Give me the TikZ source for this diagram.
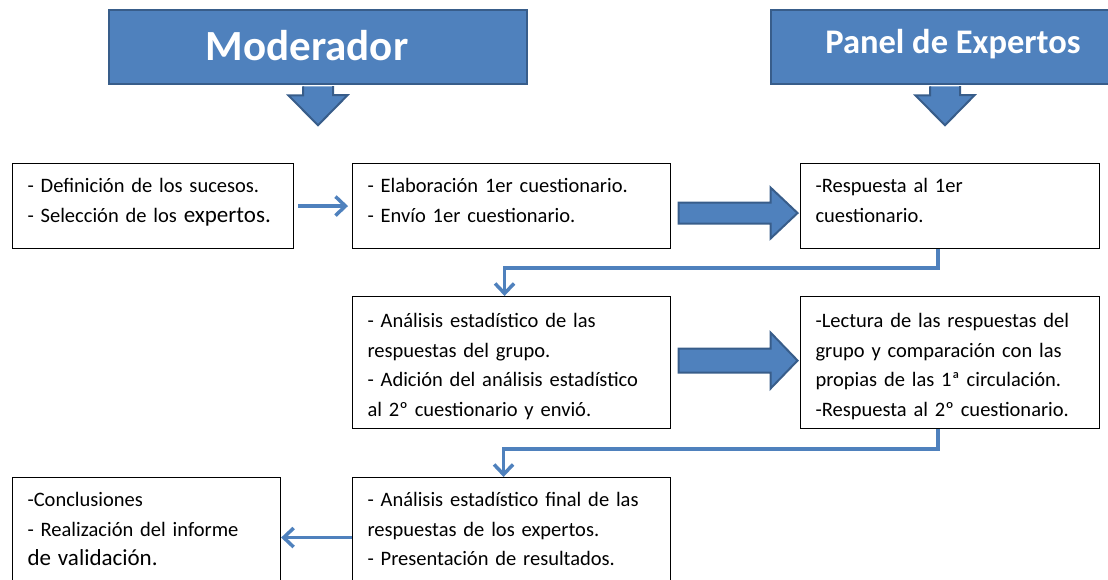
\documentclass[tikz,border=0pt]{standalone}
\usepackage{fontspec}
\setmainfont{Carlito}
\usetikzlibrary{calc, arrows.meta}
\definecolor{azul}{HTML}{4F81BD}
\definecolor{bordeazul}{HTML}{385D8A}
\newcommand{\grande}{\fontsize{23}{29.5}\selectfont}

\begin{document}
\begin{tikzpicture}[x=1pt, y=-1pt,
    bandera/.style={draw=bordeazul, line width=2.5pt, fill=azul, text=white, inner sep=0pt, minimum height=74pt},
    caja/.style={draw, line width=1.1pt, anchor=north west, align=left, inner xsep=15pt, inner ysep=0pt, text height=29pt, font=\fontsize{20.5}{29.5}\selectfont},
    conector/.style={draw=azul, line width=3.5pt, -{Straight Barb[length=10pt, width=19pt]}},
    bloque/.style={draw=bordeazul, line width=2pt, fill=azul}]
    \useasboundingbox (0,0) rectangle (1108,580);
    \clip (0,0) rectangle (1108,580);
    % titulos con flecha hacia abajo
    \node[bandera, minimum width=418pt, text depth=4pt, font=\bfseries\fontsize{43}{43}\selectfont] (mod) at (318,47) {Moderador\hspace*{22pt}};
    \filldraw[bloque] ($(mod.south)+(-15,1.2)$) -- ++(0,9) -- ++(-14.5,0) -- ($(mod.south)+(0,40)$) -- ($(mod.south)+(29.5,10)$) -- ++(-14.5,0) -- ++(0,-9);
    \node[bandera, minimum width=364pt, text depth=12pt, font=\bfseries\fontsize{34.5}{34.5}\selectfont] (pan) at (953,47) {Panel de Expertos};
    \filldraw[bloque] ($(pan.south)+(-23,1.2)$) -- ++(0,9) -- ++(-14.5,0) -- ($(pan.south)+(-8,40)$) -- ($(pan.south)+(21.5,10)$) -- ++(-14.5,0) -- ++(0,-9);
    % primera fila
    \node[caja, text width=251pt, text depth=56pt] (b1) at (12,163) {- Definición de los sucesos.\\- Selección de los {\grande expertos.}};
    \node[caja, text width=288pt, text depth=56pt] (b2) at (352,163) {- Elaboración 1er cuestionario.\\- Envío 1er cuestionario.};
    \node[caja, text width=269pt, text depth=56pt] (b3) at (800,163) {-Respuesta al 1er\\cuestionario.};
    % segunda fila
    \node[caja, text width=288pt, text height=31pt, text depth=101pt] (b4) at (352,296) {- Análisis estadístico de las\\respuestas del grupo.\\- Adición del análisis estadístico\\al 2º cuestionario y envió.};
    \node[caja, text width=269pt, text height=31pt, text depth=101pt] (b5) at (800,296) {-Lectura de las respuestas del\\grupo y comparación con las\\propias de las 1ª circulación.\\-Respuesta al 2º cuestionario.};
    % tercera fila
    \node[caja, text width=288pt, text depth=91pt] (b6) at (352,477) {- Análisis estadístico final de las\\respuestas de los expertos.\\- Presentación de resultados.};
    \node[caja, text width=238pt, text depth=91pt] (b7) at (12,477) {-Conclusiones\\- Realización del informe\\{\grande de validación.}};
    % flechas
    \draw[conector, shorten <=4pt, shorten >=4pt] (b1) -- (b2);
    \coordinate (g1) at ($(b2.east)!0.5!(b3.west)+(0,7)$);
    \filldraw[bloque] (g1) ++(-57,-10.5) -- ++(92,0) -- ++(0,-15) -- ++(27,25.5) -- ++(-27,25.5) -- ++(0,-15) -- ++(-92,0) -- cycle;
    \draw[conector] ([xshift=-12pt]b3.south) -- ++(0,19) -| ([xshift=-7pt]b4.north);
    \coordinate (g2) at ($(b4.east)!0.5!(b5.west)+(0,-2)$);
    \filldraw[bloque] (g2) ++(-57,-12) -- ++(92,0) -- ++(0,-16) -- ++(27,28) -- ++(-27,28) -- ++(0,-16) -- ++(-92,0) -- cycle;
    \draw[conector] ([xshift=-12pt]b5.south) -- ++(0,20) -| ([xshift=-8pt]b6.north);
    \draw[conector] (b6) -- (b7);
\end{tikzpicture}
\end{document}
